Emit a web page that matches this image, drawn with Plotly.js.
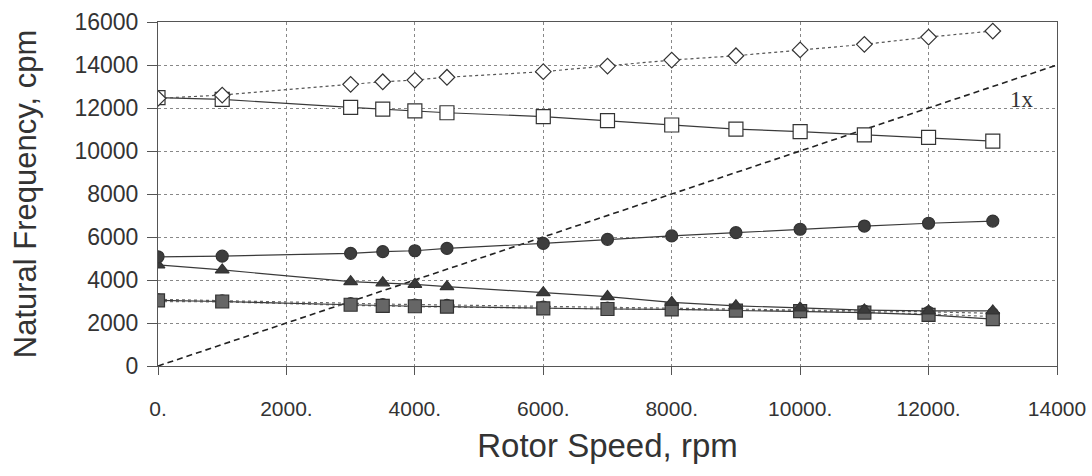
<!DOCTYPE html>
<html>
<head>
<meta charset="utf-8">
<script src="https://cdn.plot.ly/plotly-3.0.1.min.js"></script>
<style>html,body{margin:0;padding:0;background:#fff;}#chart{width:1092px;height:476px;}</style>
</head>
<body>
<div id="chart"></div>
<script>
// Rotor speeds (rpm)
const speeds = [0, 1000, 3000, 3500, 4000, 4500, 6000, 7000, 8000, 9000, 10000, 11000, 12000, 13000];
// Natural frequencies (cpm)
const modeDiamond = [12450, 12600, 13100, 13220, 13300, 13430, 13690, 13950, 14230, 14430, 14700, 14960, 15300, 15580];
const modeSquare  = [12480, 12400, 12030, 11950, 11870, 11780, 11600, 11410, 11210, 11020, 10900, 10750, 10630, 10460];
const modeCircle  = [5080, 5110, 5240, 5320, 5360, 5470, 5700, 5890, 6050, 6200, 6360, 6510, 6640, 6740];
const modeTriangle= [4700, 4470, 3920, 3870, 3800, 3690, 3410, 3230, 2960, 2800, 2700, 2600, 2560, 2560];
const modeLowA    = [3050, 3000, 2850, 2800, 2780, 2760, 2680, 2650, 2630, 2580, 2550, 2480, 2380, 2180];
const modeLowB    = [3100, 3050, 2920, 2880, 2860, 2840, 2760, 2720, 2700, 2650, 2620, 2580, 2520, 2450];
const modeLowC    = [3000, 2980, 2820, 2780, 2760, 2740, 2700, 2680, 2650, 2600, 2560, 2500, 2420, 2300];
// 1x synchronous line
const syncX = [0, 14000];
const syncY = [0, 14000];
// Axis ticks
const xTickVals = [0, 2000, 4000, 6000, 8000, 10000, 12000, 14000];
const xTickText = ["0.", "2000.", "4000.", "6000.", "8000.", "10000.", "12000.", "14000"];
const yTickVals = [0, 2000, 4000, 6000, 8000, 10000, 12000, 14000, 16000];
const yTickText = ["0", "2000", "4000", "6000", "8000", "10000", "12000", "14000", "16000"];

const lineCol = '#3a3a3a';
function tr(y, sym, size, fill, dash, lc) {
  return {x: speeds, y: y, type: 'scatter', mode: 'lines+markers',
    line: {color: lc || lineCol, width: 1.2, dash: dash || 'solid'},
    marker: {symbol: sym, size: size, color: fill, line: {color: '#333', width: 1.2}},
    showlegend: false, hoverinfo: 'skip'};
}
const data = [
  {x: syncX, y: syncY, type: 'scatter', mode: 'lines', line: {color: '#222', width: 1.6, dash: '6px,4px'}, showlegend: false},
  tr(modeLowB, 'circle', 11, '#bbb', 'dot', '#666'),
  tr(modeLowC, 'asterisk-open', 9, '#555', 'dot', '#777'),
  tr(modeLowA, 'square', 13, '#666', 'solid'),
  tr(modeTriangle, 'triangle-up', 12, '#3a3a3a', 'solid'),
  tr(modeCircle, 'circle', 12, '#3d3d3d', 'solid'),
  tr(modeSquare, 'square', 14, '#ffffff', 'solid'),
  tr(modeDiamond, 'diamond', 12, '#ffffff', 'dot', '#555')
];

const layout = {
  width: 1092, height: 476,
  margin: {l: 158, r: 35, t: 22, b: 110},
  paper_bgcolor: '#fff', plot_bgcolor: '#fff',
  font: {family: 'Liberation Sans, Arial, sans-serif', color: '#333'},
  xaxis: {
    range: [0, 14000], tickvals: xTickVals, ticktext: xTickText,
    ticks: 'outside', ticklen: 8, tickcolor: '#555',
    showline: true, linecolor: '#555', mirror: true, linewidth: 1,
    showgrid: true, gridcolor: '#888', griddash: '3px,3px', gridwidth: 1,
    zeroline: false,
    tickfont: {size: 21, color: '#333'},
    ticklabelstandoff: 16,
    title: {text: 'Rotor Speed, rpm', font: {size: 33, color: '#333'}, standoff: 14}
  },
  yaxis: {
    range: [0, 16000], tickvals: yTickVals, ticktext: yTickText,
    ticks: 'outside', ticklen: 10, tickcolor: '#555',
    showline: true, linecolor: '#555', mirror: true, linewidth: 1,
    showgrid: true, gridcolor: '#888', griddash: '3px,3px', gridwidth: 1,
    zeroline: false,
    tickfont: {size: 23, color: '#333'},
    ticklabelstandoff: 4,
    title: {text: 'Natural Frequency, cpm', font: {size: 31, color: '#333'}, standoff: 28}
  },
  annotations: [
    {x: 13450, y: 12400, xref: 'x', yref: 'y', text: '1x', showarrow: false,
     font: {family: 'Liberation Serif, Times New Roman, serif', size: 23, color: '#333'}}
  ]
};
Plotly.newPlot('chart', data, layout, {staticPlot: true, displayModeBar: false});
</script>
</body>
</html>
